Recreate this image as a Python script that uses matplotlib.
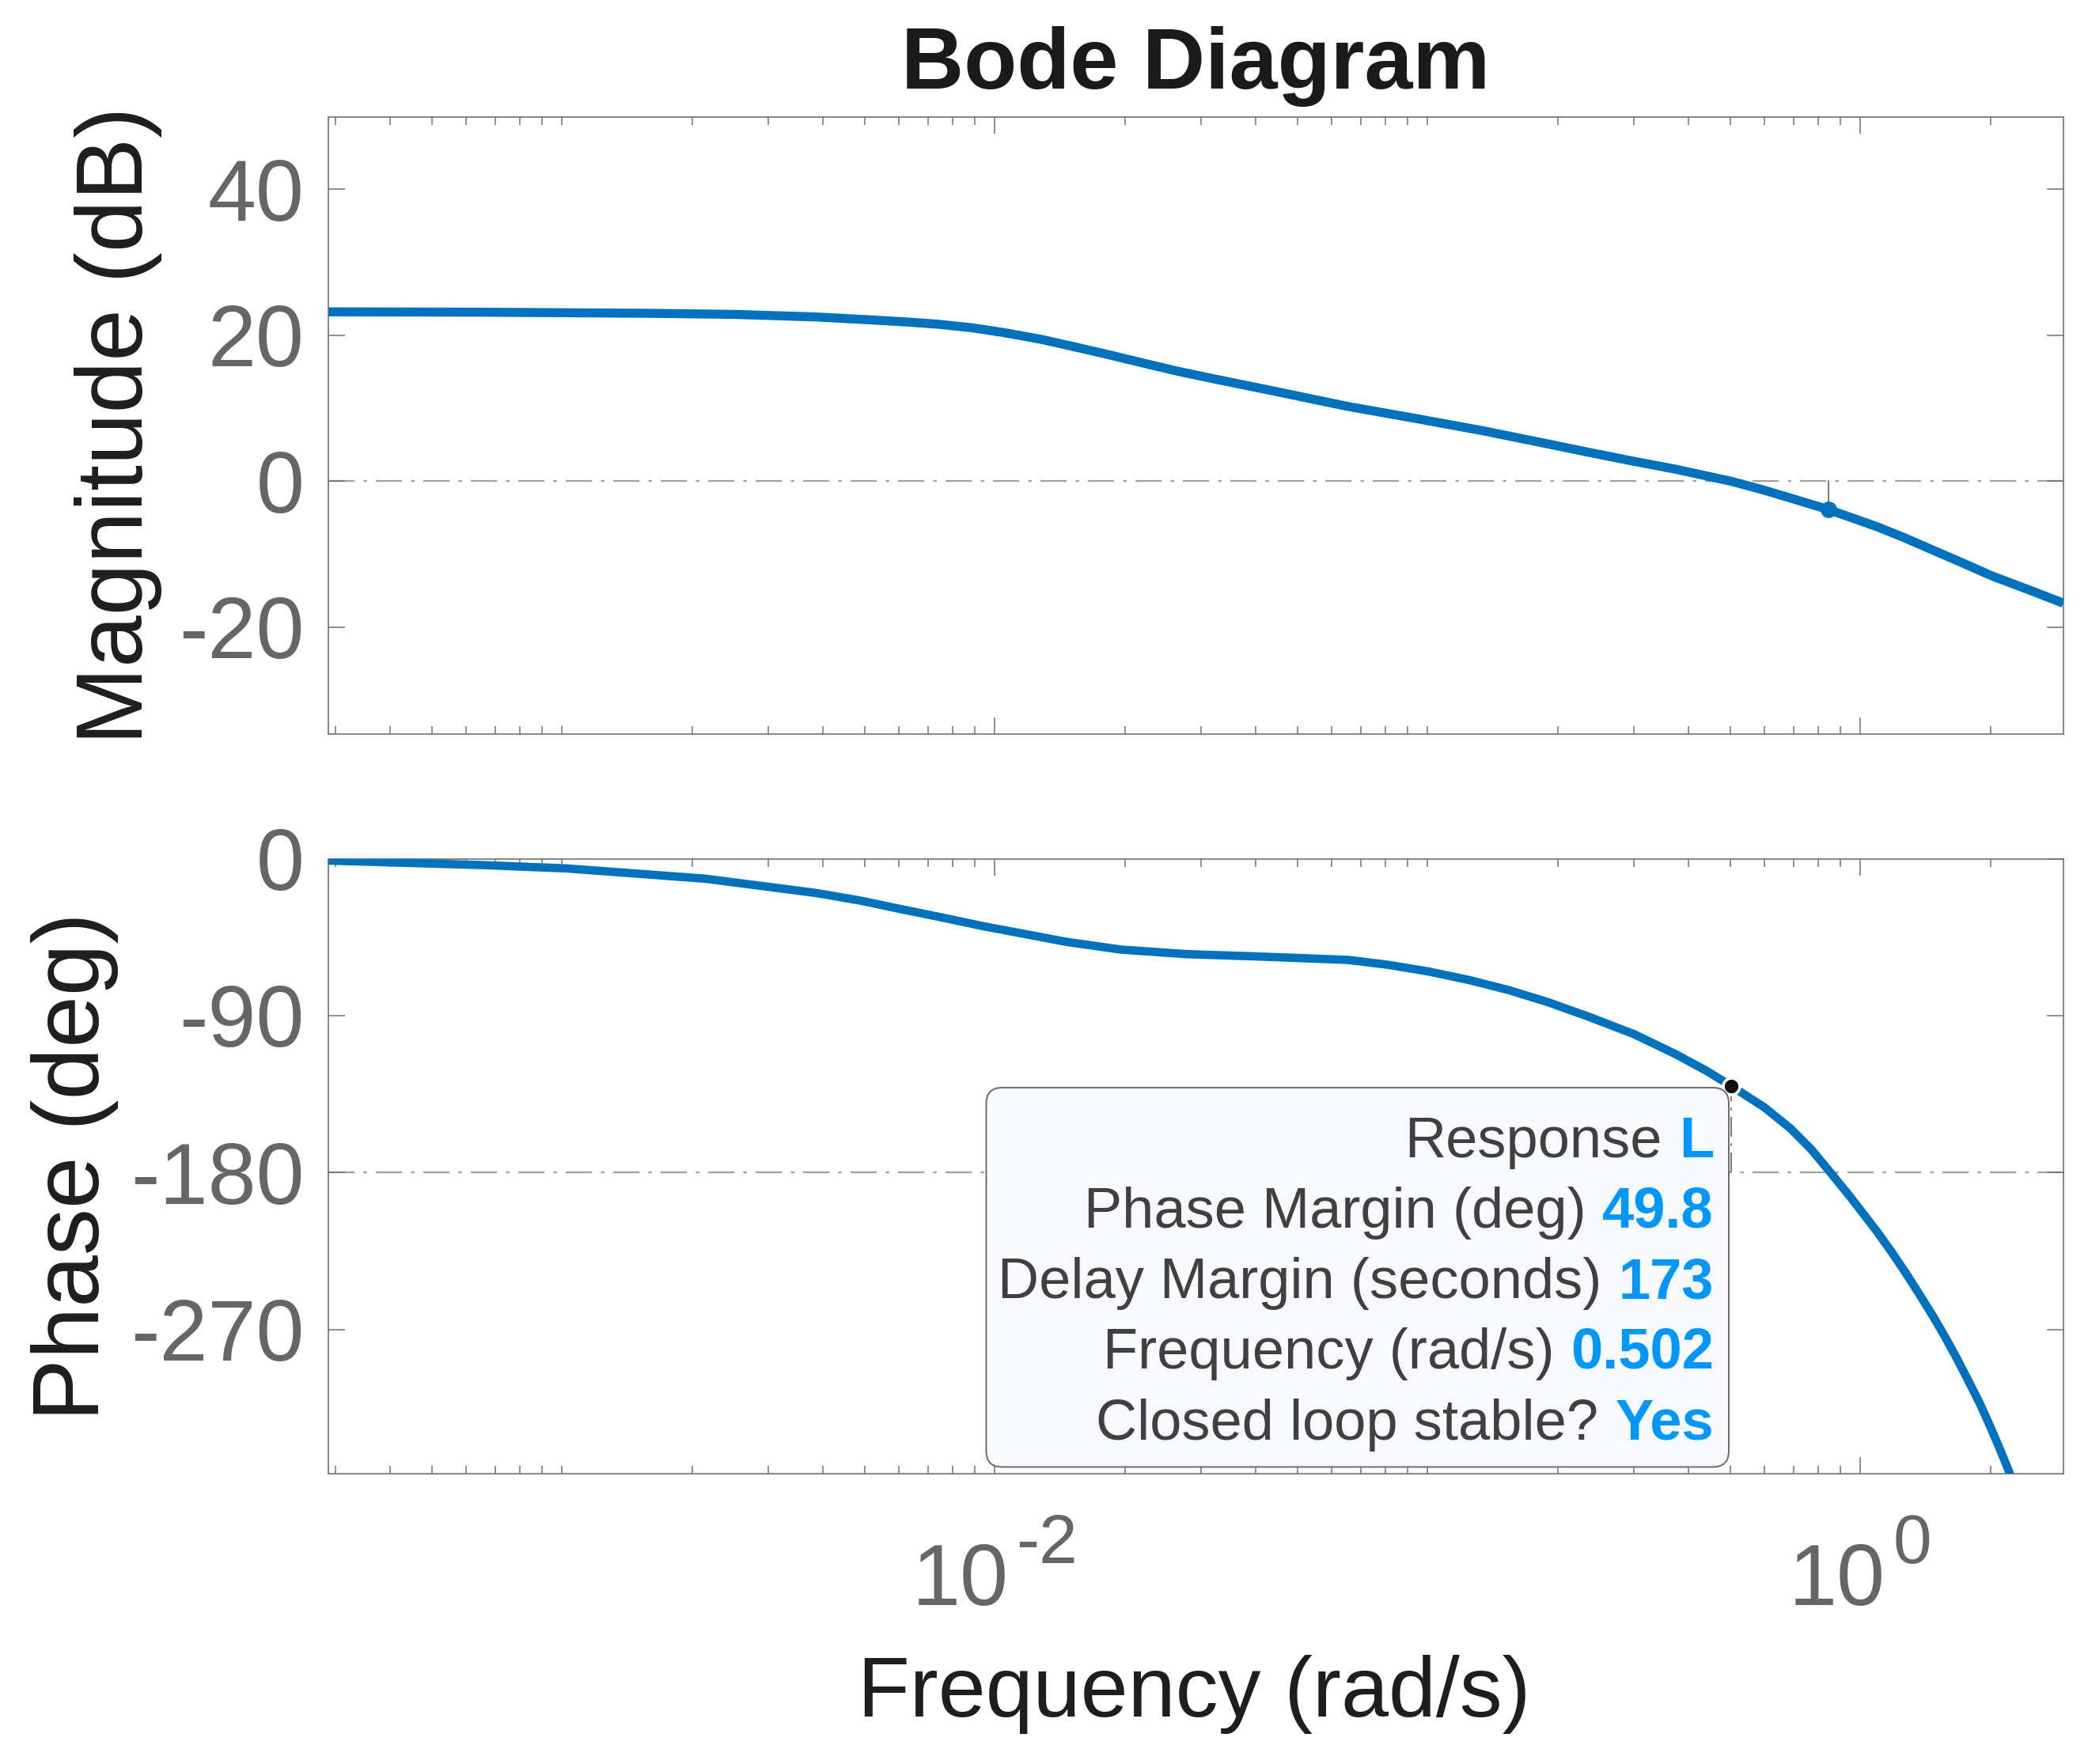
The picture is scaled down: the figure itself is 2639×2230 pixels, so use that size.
import matplotlib
matplotlib.use("Agg")
import matplotlib.pyplot as plt
from matplotlib.ticker import FixedLocator, NullFormatter, FixedFormatter
from matplotlib.patches import FancyBboxPatch

plt.rcParams['font.family'] = ['Liberation Sans', 'DejaVu Sans']
plt.rcParams['axes.unicode_minus'] = False

# ---------------- data ----------------
mag_freq = [2.89e-4, 6.58e-4, 1.59e-3, 2.512e-3, 3.86e-3, 5.16e-3, 6.31e-3,
            7.41e-3, 8.91e-3, 1.064e-2, 1.288e-2, 1.531e-2, 1.841e-2, 2.198e-2,
            2.63e-2, 3.162e-2, 4.539e-2, 6.531e-2, 9.376e-2, 0.1346, 0.1936,
            0.2360, 0.2951, 0.3736, 0.502, 0.5888, 0.6887, 0.845, 1.089, 1.259,
            1.479, 1.738, 2.009, 2.455, 2.943]
mag_db = [23.2, 23.15, 23.0, 22.85, 22.5, 22.1, 21.8,
          21.5, 21.0, 20.3, 19.4, 18.4, 17.3, 16.2,
          15.1, 14.1, 12.2, 10.25, 8.6, 6.9, 5.0,
          3.95, 2.8, 1.65, 0.0, -1.1, -2.3, -3.9, -6.2, -7.7,
          -9.5, -11.3, -12.95, -14.9, -16.7]

ph_freq = [2.89e-4, 6.58e-4, 1.023e-3, 2.143e-3, 3.864e-3, 4.9e-3, 6.026e-3,
           7.6e-3, 9.376e-3, 1.2e-2, 1.459e-2, 1.959e-2, 2.780e-2, 4.130e-2,
           6.546e-2, 8.1e-2, 0.1003, 0.125, 0.1539, 0.19, 0.2362, 0.30, 0.3736,
           0.44, 0.502, 0.60, 0.6887, 0.77, 0.853, 0.95, 1.089, 1.18, 1.269,
           1.37, 1.479, 1.57, 1.672, 1.78, 1.889, 2.0, 2.1, 2.201, 2.222]
ph_deg = [-1.0, -3.6, -5.5, -11.4, -19.6, -24.0, -28.7,
          -33.8, -38.6, -43.6, -47.6, -52.1, -54.7, -56.1,
          -58.0, -60.8, -64.6, -69.6, -75.3, -82.3, -90.7, -100.6, -112.0,
          -121.5, -130.2, -142.6, -154.6, -166.7, -180.0, -194.3, -213.4, -225.5, -237.1,
          -250.0, -263.3, -274.4, -286.8, -299.9, -312.6, -326.3, -338.6, -351.0, -353.8]

gm_freq, gm_db = 0.845, -3.9          # gain-margin marker
pm_freq, pm_deg = 0.502, -130.2       # phase-margin marker

mag_ticks = [-20, 0, 20, 40]
ph_ticks = [-270, -180, -90, 0]
x_major = [1e-2, 1e0]
x_major_base = ['10', '10']
x_major_exp = ['-2', '0']
x_lim = (2.89e-4, 2.943)
mag_lim = (-34.6, 49.85)
ph_lim = (-353.0, 0.0)

tip_labels = ['Response', 'Phase Margin (deg)', 'Delay Margin (seconds)',
              'Frequency (rad/s)', 'Closed loop stable?']
tip_values = ['L', '49.8', '173', '0.502', 'Yes']

# ---------------- styling ----------------
W, H, DPI = 2639, 2230, 200
line_color = '#0072BD'
tick_gray = '#666666'
spine_gray = '#707070'
ref_gray = '#a0a0a0'
label_color = '#1e1e1e'
tip_text = '#404040'
tip_val = '#0096FA'

fig = plt.figure(figsize=(W / DPI, H / DPI), dpi=DPI)

def px_axes(left, top, right, bottom):
    return [left / W, 1 - bottom / H, (right - left) / W, (bottom - top) / H]

ax1 = fig.add_axes(px_axes(415.4, 148.3, 2607.7, 927.6))
ax2 = fig.add_axes(px_axes(415.4, 1085.7, 2607.7, 1863.4))

minor_pos = [k * 10.0 ** n for n in range(-4, 1) for k in range(1, 10)
             if not any(abs(k * 10.0 ** n - m) < 1e-12 for m in x_major)]

for ax in (ax1, ax2):
    ax.set_xscale('log')
    ax.set_xlim(*x_lim)
    ax.xaxis.set_major_locator(FixedLocator(x_major))
    ax.xaxis.set_major_formatter(NullFormatter())
    ax.xaxis.set_minor_locator(FixedLocator(minor_pos))
    ax.xaxis.set_minor_formatter(NullFormatter())
    for s in ax.spines.values():
        s.set_color(spine_gray)
        s.set_linewidth(0.6)
    ax.tick_params(which='both', direction='in', top=True, right=True,
                   color=spine_gray, width=0.55, labelcolor=tick_gray,
                   labelsize=39.5)
    ax.tick_params(which='major', length=7.5)
    ax.tick_params(which='minor', length=3.6)
    ax.tick_params(axis='y', pad=11)

# magnitude
ax1.plot(mag_freq, mag_db, color=line_color, lw=4.1, solid_capstyle='butt',
         solid_joinstyle='round', zorder=3)
ax1.axhline(0, color=ref_gray, lw=0.8, dashes=(15, 5, 2, 5), zorder=1)
ax1.plot([gm_freq, gm_freq], [0, gm_db], color='#606060', lw=0.6, zorder=2)
ax1.plot([gm_freq], [gm_db], 'o', color=line_color, ms=6.5, zorder=4)
ax1.set_ylim(*mag_lim)
ax1.yaxis.set_major_locator(FixedLocator(mag_ticks))
ax1.yaxis.set_major_formatter(FixedFormatter([str(v) for v in mag_ticks]))
ax1.set_ylabel('Magnitude (dB)', fontsize=42.5, color=label_color)
ax1.yaxis.set_label_coords((205 - 415.4) / 2192.3, 0.5)

# phase
ax2.plot(ph_freq, ph_deg, color=line_color, lw=3.8, solid_capstyle='butt',
         solid_joinstyle='round', zorder=3)
ax2.axhline(-180, color=ref_gray, lw=0.8, dashes=(15, 5, 2, 5), zorder=1)
ax2.plot([pm_freq, pm_freq], [-180, pm_deg], color='#606060', lw=0.6,
         dashes=(15, 5, 2, 5), zorder=2)
ax2.plot([pm_freq], [pm_deg], 'o', mfc='#111111', mec='white', mew=1.3, ms=7.5,
         zorder=6, clip_on=False)
ax2.set_ylim(*ph_lim)
ax2.yaxis.set_major_locator(FixedLocator(ph_ticks))
ax2.yaxis.set_major_formatter(FixedFormatter([str(v) for v in ph_ticks]))
ax2.set_ylabel('Phase (deg)', fontsize=42.5, color=label_color)
ax2.yaxis.set_label_coords((150 - 415.4) / 2192.3, 0.5)

# title and x label
fig.text(1511.5 / W, 1 - 112 / H, 'Bode Diagram', ha='center', va='baseline',
         fontsize=39.5, fontweight='bold', color='#1a1a1a')
fig.text(1509 / W, 1 - 2170 / H, 'Frequency (rad/s)', ha='center', va='baseline',
         fontsize=38.8, color=label_color)

# data tip box
bx0, bx1, by0, by1 = 1246.5, 2185.0, 1375.0, 1854.5
box = FancyBboxPatch((bx0 / DPI, (H - by1) / DPI), (bx1 - bx0) / DPI, (by1 - by0) / DPI,
                     boxstyle='round,pad=0,rounding_size=0.1',
                     transform=fig.dpi_scale_trans, fc='#F8F9FC', ec='#6a6a6a',
                     lw=0.7, zorder=4)
fig.add_artist(box)

fig.canvas.draw()
renderer = fig.canvas.get_renderer()

# x tick labels: "10" with a raised exponent, centred on each major tick
gap_exp = 10
for xt, base, ex in zip(x_major, x_major_base, x_major_exp):
    xpix = ax2.transData.transform((xt, ph_lim[0]))[0]
    t1 = fig.text(0, 0, base, transform=fig.dpi_scale_trans, ha='left',
                  va='baseline', fontsize=39.5, color=tick_gray)
    t2 = fig.text(0, 0, ex, transform=fig.dpi_scale_trans, ha='left',
                  va='baseline', fontsize=31.5, color=tick_gray)
    w1 = t1.get_window_extent(renderer).width
    w2 = t2.get_window_extent(renderer).width
    x0 = xpix - (w1 + gap_exp + w2) / 2
    t1.set_position((x0 / DPI, (H - 2029) / DPI))
    t2.set_position(((x0 + w1 + gap_exp) / DPI, (H - 1976) / DPI))

baselines = [1463, 1552, 1641, 1730, 1820]
right_px = 2166
gap_px = 21
for lab, val, bl in zip(tip_labels, tip_values, baselines):
    y_in = (H - bl) / DPI
    tv = fig.text(right_px / DPI, y_in, val, transform=fig.dpi_scale_trans,
                  ha='right', va='baseline', fontsize=26, fontweight='bold',
                  color=tip_val, zorder=6)
    bb = tv.get_window_extent(renderer)
    fig.text((bb.x0 - gap_px) / DPI, y_in, lab, transform=fig.dpi_scale_trans,
             ha='right', va='baseline', fontsize=26, color=tip_text, zorder=6)

fig.savefig('out.png', dpi=DPI)
